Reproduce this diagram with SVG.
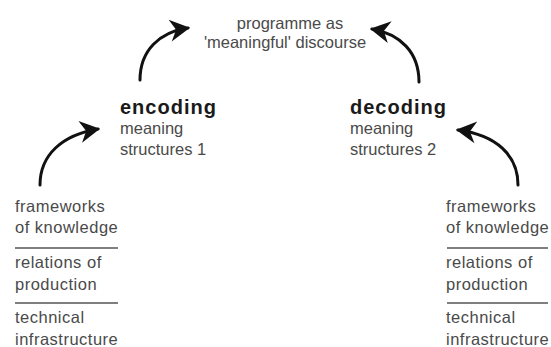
<svg xmlns="http://www.w3.org/2000/svg" width="551" height="347" viewBox="0 0 551 347">
<style>
  .t { font-family: "Liberation Sans", Arial, sans-serif; font-size: 16.5px; fill: #4a4a4a; }
  .s { letter-spacing: 0.5px; }
  .h { font-family: "Liberation Sans", Arial, sans-serif; font-size: 20px; font-weight: bold; fill: #1a1a1a; letter-spacing: 1px; }
  .sep { stroke: #555; stroke-width: 1.6; }
  .arr { fill: none; stroke: #111; stroke-width: 3; stroke-linecap: round; marker-end: url(#head); }
</style>
<defs>
  <marker id="head" markerUnits="userSpaceOnUse" markerWidth="26" markerHeight="26" viewBox="-22 -13 26 26" refX="0" refY="0" orient="auto">
    <path d="M2,0 L-18,-11 L-12,0 L-18,11 Z" fill="#111"/>
  </marker>
</defs>
<rect width="551" height="347" fill="#fff"/>
<g id="connectors">
  <path class="arr" d="M140,80 C140,50 160,32 188,28"/>
  <path class="arr" d="M419,82 C419,52 400,34 372,29"/>
  <path class="arr" d="M40,185 C40,155 62,135 98,129"/>
  <path class="arr" d="M518,185 C518,155 496,135 458,130"/>
</g>
<g id="programme">
  <text class="t" x="290" y="29" text-anchor="middle">programme as</text>
  <text class="t" x="285" y="48" text-anchor="middle">'meaningful' discourse</text>
</g>
<g id="encoding">
  <text class="h" x="120" y="114">encoding</text>
  <text class="t" x="120" y="134">meaning</text>
  <text class="t" x="120" y="155">structures 1</text>
</g>
<g id="decoding">
  <text class="h" x="350" y="114">decoding</text>
  <text class="t" x="350" y="134">meaning</text>
  <text class="t" x="350" y="155">structures 2</text>
</g>
<g id="left-stack">
  <text class="t s" x="15" y="212">frameworks</text>
  <text class="t s" x="15" y="233">of knowledge</text>
  <line class="sep" x1="15" y1="248" x2="118" y2="248"/>
  <text class="t s" x="15" y="268">relations of</text>
  <text class="t s" x="15" y="290">production</text>
  <line class="sep" x1="15" y1="303" x2="118" y2="303"/>
  <text class="t s" x="15" y="323">technical</text>
  <text class="t s" x="15" y="345">infrastructure</text>
</g>
<g id="right-stack">
  <text class="t s" x="446" y="212">frameworks</text>
  <text class="t s" x="446" y="233">of knowledge</text>
  <line class="sep" x1="447" y1="248" x2="548" y2="248"/>
  <text class="t s" x="446" y="268">relations of</text>
  <text class="t s" x="446" y="290">production</text>
  <line class="sep" x1="447" y1="303" x2="548" y2="303"/>
  <text class="t s" x="446" y="323">technical</text>
  <text class="t s" x="446" y="345">infrastructure</text>
</g>
</svg>
